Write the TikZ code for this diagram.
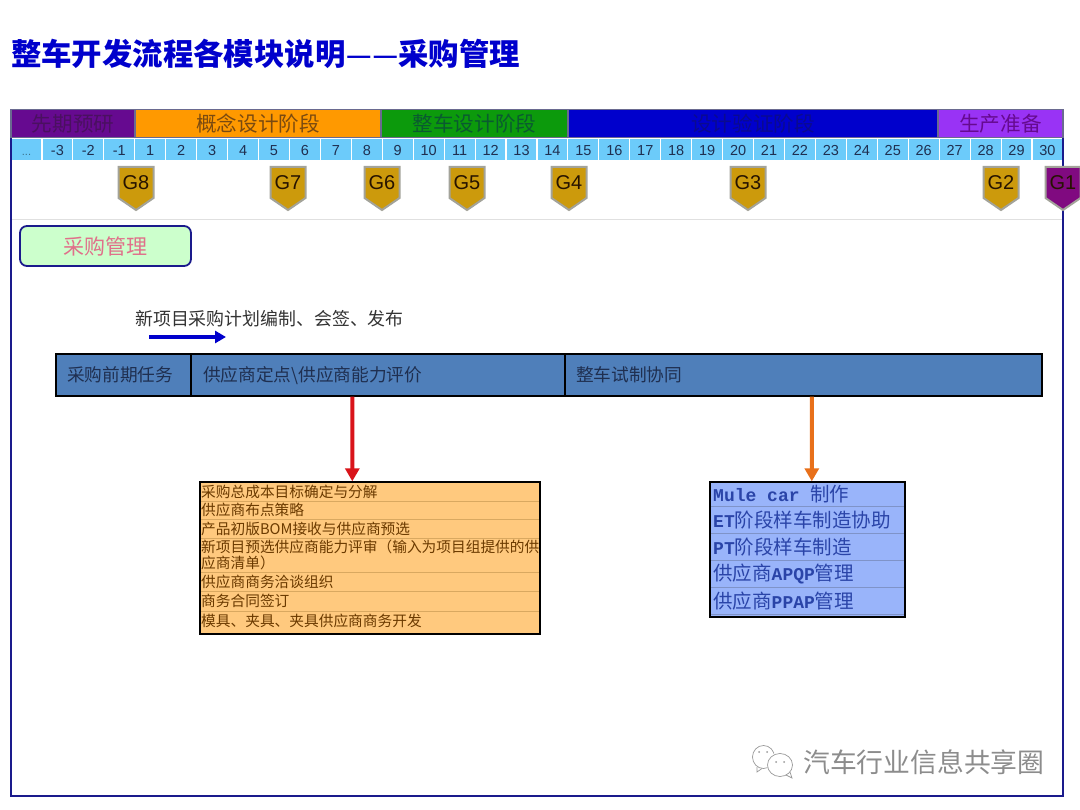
\documentclass[tikz,border=0pt]{standalone}
\usepackage{fontspec}
\setmainfont{Noto Sans CJK SC}
\newfontfamily\latinf{Liberation Sans}
\newfontfamily\monof{Liberation Mono}[BoldFont={Liberation Mono Bold}]
\usetikzlibrary{arrows.meta,calc}
\definecolor{framec}{HTML}{1A1A8C}
\definecolor{cellc}{HTML}{6CCBFA}
\definecolor{gold}{HTML}{CC9A0C}
\definecolor{gedge}{HTML}{A3A39A}
\definecolor{barc}{HTML}{4F7FBA}
\definecolor{inkc}{HTML}{1F2F50}
\definecolor{orangec}{HTML}{FFC97E}
\definecolor{periw}{HTML}{99B4FA}
\definecolor{phA}{HTML}{660A90}
\definecolor{phAt}{HTML}{4A1060}
\definecolor{phB}{HTML}{FF9900}
\definecolor{phBt}{HTML}{7A4A10}
\definecolor{phC}{HTML}{0C9A0C}
\definecolor{phCt}{HTML}{0A5A30}
\definecolor{phD}{HTML}{0000CC}
\definecolor{phDt}{HTML}{0A0A90}
\definecolor{phE}{HTML}{9933F5}
\definecolor{phEt}{HTML}{660A90}
\definecolor{phedge}{HTML}{6A6A90}
\definecolor{gpurple}{HTML}{800A80}
\definecolor{ptext}{HTML}{E0708A}
\definecolor{atext}{HTML}{6B3A00}
\definecolor{aline}{HTML}{D9A860}
\definecolor{btext}{HTML}{2A44A8}
\definecolor{bline}{HTML}{7F93C8}
\definecolor{redlink}{HTML}{D9141A}
\definecolor{orlink}{HTML}{E8701A}
\tikzset{
  phase/.style={draw=phedge,line width=1.2pt,inner sep=0,minimum height=28pt,font=\fontsize{20.6}{20.6}\selectfont},
  cell/.style={fill=cellc,inner sep=0,minimum width=29.8pt,minimum height=21pt,text height=10.5pt,text depth=0pt,text=inkc,font=\latinf\fontsize{14.5}{14.5}\selectfont},
  gate/.style={draw=gedge,line width=2pt,fill=#1,line join=miter},
  gatelabel/.style={inner sep=0,text=black!85!orange,font=\latinf\fontsize{20}{20}\selectfont},
  taskc/.style={draw=black,line width=1.2pt,fill=barc,inner sep=0,minimum height=42pt,text height=16pt,text depth=2.6pt,text=inkc,font=\fontsize{17.7}{17.7}\selectfont},
  rowa/.style={anchor=west,inner sep=0,text=atext,font=\fontsize{14.7}{16}\selectfont},
  rowb/.style={anchor=west,inner sep=0,text=btext,font=\fontsize{19.5}{20}\selectfont},
  linkarrow/.style={-{Triangle[length=13pt,width=14pt]},line width=4pt},
}
\newcommand{\gatepath}[3]{% x, fill, name
  \fill[gate=#2] (#1-17.5,167) -- (#1+17.5,167) -- (#1+17.5,198) -- (#1,210) -- (#1-17.5,198) -- cycle;
  \node[gatelabel] (#3) at (#1,183) {#3};}
\newcommand{\tdots}{{\fontsize{11}{11}\selectfont\color{black!45!cellc}...}}
\newcommand{\lat}[1]{{\monof\bfseries\fontsize{18}{18}\selectfont #1}}
\newcommand{\tdash}{\makebox[26.5pt]{\raisebox{2pt}{\latinf\bfseries\fontsize{23}{23}\selectfont —}}}
\begin{document}
\begin{tikzpicture}[x=1pt,y=-1pt]
\useasboundingbox (0,0) rectangle (1080,810);
\fill[white] (0,0) rectangle (1080,810);
\node[anchor=west,inner sep=0,text=phD,font=\bfseries\fontsize{30.4}{30}\selectfont] (title) at (11,54) {整车开发流程各模块说明\tdash\tdash 采购管理};
% frame
\draw[framec,line width=2pt] (11,110) rectangle (1063,796);
\draw[black!12,line width=.8pt] (12,219) -- (1062,219);
% phases
\node[phase,fill=phA,text=phAt,minimum width=124pt] (p1) at (73,123.5) {先期预研};
\node[phase,fill=phB,text=phBt,minimum width=246pt] (p2) at (258,123.5) {概念设计阶段};
\node[phase,fill=phC,text=phCt,minimum width=187pt] (p3) at (474.5,123.5) {整车设计阶段};
\node[phase,fill=phD,text=phDt,minimum width=370pt] (p4) at (753,123.5) {设计验证阶段};
\node[phase,fill=phE,text=phEt,minimum width=125pt] (p5) at (1000.5,123.5) {生产准备};
% weeks
\foreach \i/\t in {0/\tdots,1/-3,2/-2,3/-1,4/1,5/2,6/3,7/4,8/5,9/6,10/7,11/8,12/9,13/10,14/11,15/12,16/13,17/14,18/15,19/16,20/17,21/18,22/19,23/20,24/21,25/22,26/23,27/24,28/25,29/26,30/27,31/28,32/29,33/30}
  \node[cell] (w\i) at ({11+30.94*(\i+.5)},150) {\t};
% gates
\gatepath{136}{gold}{G8}
\gatepath{288}{gold}{G7}
\gatepath{382}{gold}{G6}
\gatepath{467}{gold}{G5}
\gatepath{569}{gold}{G4}
\gatepath{748}{gold}{G3}
\gatepath{1001}{gold}{G2}
\gatepath{1063}{gpurple}{G1}
% module
\node[draw=framec,line width=1.8pt,rounded corners=7pt,fill=green!20!white,minimum width=171pt,minimum height=40pt,inner sep=0,text=ptext,font=\fontsize{21}{21}\selectfont] (module) at (105.5,246) {采购管理};
% plan
\node[anchor=west,inner sep=0,text=black!80,font=\fontsize{17.9}{18}\selectfont] (plan) at (135,318.5) {新项目采购计划编制、会签、发布};
\coordinate (pa) at (149,337);
\coordinate (pb) at (226,337);
\draw[-{Triangle[length=11pt,width=12pt]},line width=3.4pt,phD] (pa) -- (pb);
% tasks
\node[taskc,minimum width=135pt,text width=135pt,align=left] (ta) at (123.5,375) {\hspace{11pt}采购前期任务};
\node[taskc,minimum width=374pt,text width=374pt,align=left] (tb) at (378,375) {\hspace{12pt}供应商定点\textbackslash 供应商能力评价};
\node[taskc,minimum width=477pt,text width=477pt,align=left] (tc) at (803.5,375) {\hspace{11pt}整车试制协同};
% table A
\node[draw=black,line width=1.4pt,fill=orangec,minimum width=340pt,minimum height=152pt,inner sep=0] (tblA) at (370,558) {};
\foreach \y in {501,519,538,572,591,611} \draw[aline,line width=.8pt] (201,\y) -- (539,\y);
\node[rowa] (a1) at (201,491.5) {采购总成本目标确定与分解};
\node[rowa] (a2) at (201,510) {供应商布点策略};
\node[rowa] (a3) at (201,528.5) {产品初版BOM接收与供应商预选};
\node[rowa,text width=339pt,align=left] (a4) at (201,555) {新项目预选供应商能力评审（输入为项目组提供的供\\[-.5pt]应商清单）};
\node[rowa] (a5) at (201,582) {供应商商务洽谈组织};
\node[rowa] (a6) at (201,601) {商务合同签订};
\node[rowa] (a7) at (201,621) {模具、夹具、夹具供应商商务开发};
% table B
\node[draw=black,line width=1.4pt,fill=periw,minimum width=195pt,minimum height=135pt,inner sep=0] (tblB) at (807.5,549.5) {};
\foreach \y in {506,533,560,587,614} \draw[bline,line width=.8pt] (711,\y) -- (904,\y);
\node[rowb] (b1) at (713,494) {\lat{Mule car }制作};
\node[rowb] (b2) at (713,520.5) {\lat{ET}阶段样车制造协助};
\node[rowb] (b3) at (713,547) {\lat{PT}阶段样车制造};
\node[rowb] (b4) at (713,574) {供应商\lat{APQP}管理};
\node[rowb] (b5) at (713,601) {供应商\lat{PPAP}管理};
% links
\draw[linkarrow,redlink] ($(tb.south west)+(162,0)$) -- ($(tblA.north west)+(153,0)$);
\draw[linkarrow,orlink] ($(tc.south west)+(247.5,0)$) -- ($(tblB.north west)+(102.5,0)$);
% watermark
\begin{scope}[draw=black!40,line width=.7pt]
\draw (763.5,757) ellipse [x radius=11,y radius=11.5];
\draw (757,767) -- (757,772) -- (762,768.5);
\fill[white] (780,765) circle (13);
\draw (780,765) ellipse [x radius=12.5,y radius=11.5];
\draw (786,775) -- (792,778) -- (790,772);
\fill[black!40] (759,752) circle (1) (767,752) circle (1) (776,762) circle (1) (784,762) circle (1);
\end{scope}
\node[anchor=west,inner sep=0,text=black!45,font=\fontsize{26.8}{27}\selectfont] (wm) at (803,762) {汽车行业信息共享圈};
\end{tikzpicture}
\end{document}
